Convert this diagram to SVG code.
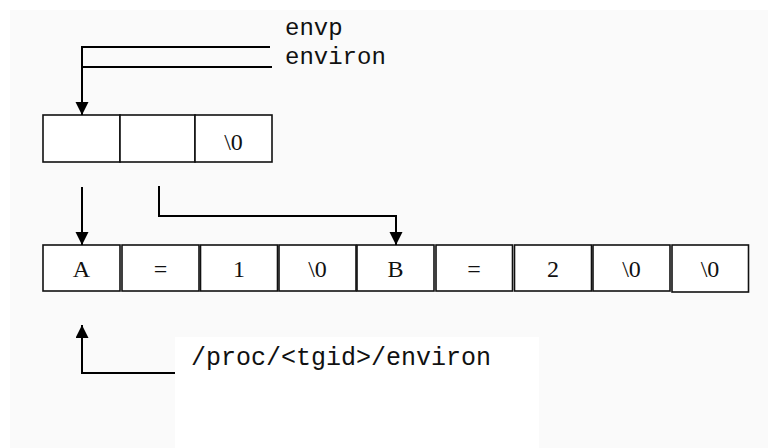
<svg xmlns="http://www.w3.org/2000/svg" width="768" height="448" viewBox="0 0 768 448">
  <defs>
    <marker id="head" markerUnits="userSpaceOnUse" markerWidth="14" markerHeight="14" refX="13" refY="6.5" orient="auto">
      <path d="M0,0 L13,6.5 L0,13 Z" fill="#000"/>
    </marker>
    <style>
      .cell { fill: #fff; stroke: #111; stroke-width: 1.6; }
      .val { font-family: "Liberation Serif", "Times New Roman", serif; font-size: 24px; text-anchor: middle; fill: #111; }
      .mono { font-family: "Liberation Mono", "Courier New", monospace; font-size: 25px; fill: #111; }
      .mono-sm { font-family: "Liberation Mono", "Courier New", monospace; font-size: 24px; fill: #111; }
      .wire { fill: none; stroke: #000; stroke-width: 2; }
    </style>
  </defs>

  <!-- canvas -->
  <rect x="0" y="0" width="768" height="448" fill="#fff"/>
  <rect x="10" y="10" width="758" height="438" fill="#fafafa"/>
  <rect x="175" y="337" width="364" height="111" fill="#fff"/>

  <!-- pointer array -->
  <g id="envp-array">
    <rect class="cell" x="43" y="115" width="77" height="47"/>
    <rect class="cell" x="120" y="115" width="75" height="47"/>
    <rect class="cell" x="195" y="115" width="77" height="47"/>
    <text class="val" x="233.5" y="150">\0</text>
  </g>

  <!-- string area -->
  <g id="strings">
    <rect class="cell" x="43" y="245" width="77" height="46"/>
    <text class="val" x="81.5" y="277">A</text>
    <rect class="cell" x="122" y="245" width="77" height="46"/>
    <text class="val" x="160.5" y="277">=</text>
    <rect class="cell" x="200.5" y="245" width="77" height="46"/>
    <text class="val" x="239" y="277">1</text>
    <rect class="cell" x="279" y="245" width="77" height="46"/>
    <text class="val" x="317.5" y="277">\0</text>
    <rect class="cell" x="357" y="245" width="77" height="46"/>
    <text class="val" x="395.5" y="277">B</text>
    <rect class="cell" x="436" y="245" width="76.5" height="46"/>
    <text class="val" x="474" y="277">=</text>
    <rect class="cell" x="514.5" y="245" width="77" height="46"/>
    <text class="val" x="553" y="277">2</text>
    <rect class="cell" x="593" y="245" width="77" height="46"/>
    <text class="val" x="631.5" y="277">\0</text>
    <rect class="cell" x="672" y="245" width="76.5" height="47"/>
    <text class="val" x="710" y="277">\0</text>
  </g>

  <!-- labels -->
  <g id="label-envp">
    <text class="mono-sm" x="285" y="35">envp</text>
  </g>
  <g id="label-environ">
    <text class="mono-sm" x="285" y="64">environ</text>
  </g>
  <g id="label-proc">
    <text class="mono" x="191" y="365">/proc/&lt;tgid&gt;/environ</text>
  </g>

  <!-- connectors -->
  <g id="connectors">
    <path class="wire" d="M270,47 H82 V115" marker-end="url(#head)"/>
    <path class="wire" d="M272,67 H82"/>
    <path class="wire" d="M82,187 V245" marker-end="url(#head)"/>
    <path class="wire" d="M159,186 V216 H396 V245" marker-end="url(#head)"/>
    <path class="wire" d="M175,373 H82 V325" marker-end="url(#head)"/>
  </g>
</svg>
